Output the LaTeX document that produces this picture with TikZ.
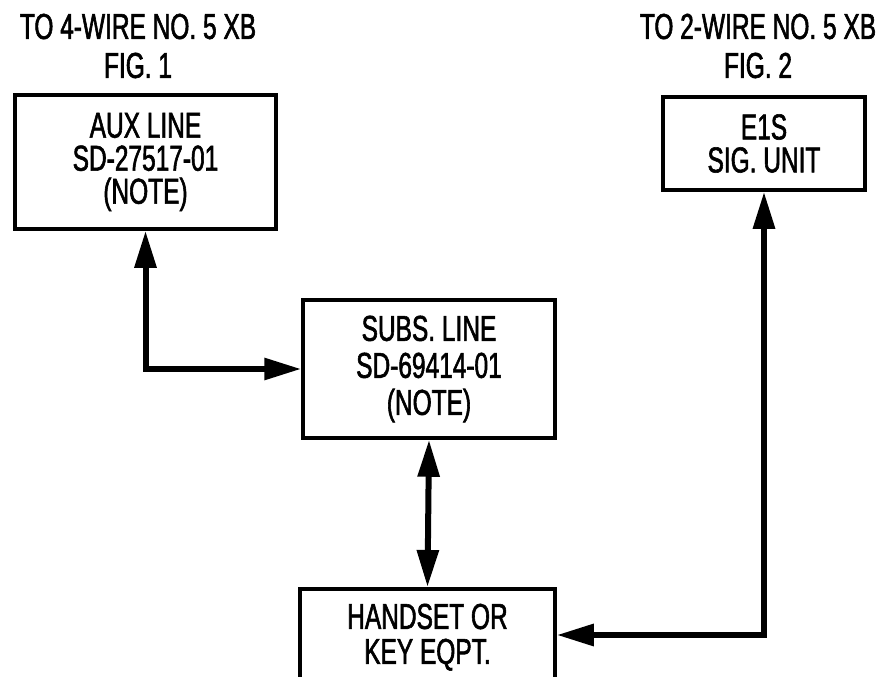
\documentclass[tikz,border=0pt]{standalone}
\usepackage{fontspec}
\newfontfamily\narrowsf[FakeStretch=0.68,FakeBold=1.6]{Liberation Sans}
\usetikzlibrary{arrows.meta,calc}
\tikzset{
  blk/.style={draw=black,line width=3.5pt,align=center,inner sep=0pt,
              font=\narrowsf\fontsize{36}{33}\selectfont},
  ttl/.style={align=center,inner sep=0pt,
              font=\narrowsf\fontsize{36}{39}\selectfont},
  dlink/.style={line width=6pt,{Triangle[length=37pt,width=21pt]}-{Triangle[length=37pt,width=21pt]}},
}
\begin{document}
\begin{tikzpicture}[x=1pt,y=-1pt]
  \useasboundingbox (0,0) rectangle (887,677);
  \clip (0,0) rectangle (887,677);
  % headings
  \node[ttl] (t1) at (138,46) {TO 4-WIRE NO. 5 XB\\FIG. 1};
  \node[ttl] (t2) at (758,46) {TO 2-WIRE NO. 5 XB\\FIG. 2};
  % boxes
  \node[blk,minimum width=261pt,minimum height=134pt] (aux) at (145.5,162)
    {AUX LINE\\SD-27517-01\\(NOTE)};
  \node[blk,minimum width=202pt,minimum height=93pt] (e1s) at (764,143.5)
    {E1S\\SIG. UNIT};
  \node[blk,minimum width=252pt,minimum height=138pt,
        font=\narrowsf\fontsize{36}{37}\selectfont] (subs) at (429,369)
    {SUBS. LINE\\SD-69414-01\\(NOTE)};
  \node[blk,anchor=north,minimum width=255pt,inner ysep=15pt,text depth=90pt,
        font=\narrowsf\fontsize{36}{35}\selectfont] (hs) at (427.5,587)
    {HANDSET OR\\KEY EQPT.};
  % connectors
  \draw[dlink] (aux.south) |- (subs.west);
  \draw[dlink] (subs.south) -- (hs.north);
  \draw[dlink] (e1s.south) |- ($(hs.north east)+(0,48)$);
\end{tikzpicture}
\end{document}
